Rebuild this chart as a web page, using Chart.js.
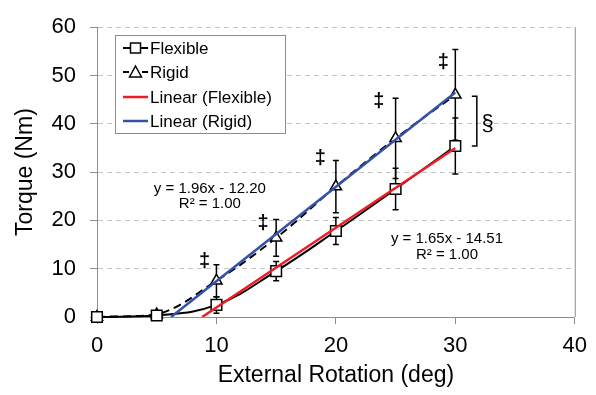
<!DOCTYPE html>
<html>
<head>
<meta charset="utf-8">
<script src="https://cdn.jsdelivr.net/npm/chart.js@4.4.0/dist/chart.umd.min.js"></script>
<style>
  body { margin: 0; background: #fff; }
  #wrap { width: 596px; height: 395px; }
</style>
</head>
<body>
<div id="wrap"><canvas id="torqueChart"></canvas></div>
<script>
let angles = [0, 5, 10, 15, 20, 25, 30]
let flexible = [0, 0.3, 2.5, 9.5, 17.8, 26.5, 35.4]
let flexibleErr = [0, 0.2, 1.7, 2.0, 2.8, 4.3, 5.8]
let rigid = [0, 0.5, 7.5, 16.4, 27, 37, 46]
let rigidErr = [0, 0.3, 3.3, 3.8, 5.4, 8.3, 9.4]

// trendline end points
let fitFlexibleX = [8.8, 30]
let fitFlexibleY = [0, 35.0]
let fitRigidX = [6.2, 30]
let fitRigidY = [0, 46.5]

let xTicks = [0, 10, 20, 30, 40]
let yTicks = [0, 10, 20, 30, 40, 50, 60]

let legendLabels = [`Flexible`, `Rigid`, `Linear (Flexible)`, `Linear (Rigid)`]
let eqRigid = [`y = 1.96x - 12.20`, `R² = 1.00`]
let eqFlexible = [`y = 1.65x - 14.51`, `R² = 1.00`]

const FONT = `"Liberation Sans", Arial, sans-serif`
const RED = `#ee1c25`
const BLUE = `#3552a8`

function pts(xs, ys) {
    return xs.map((v, i) => ({x: v, y: ys[i]}))
}

const extras = {
    id: `extras`,
    beforeDatasetsDraw(chart) {
        const {ctx, scales: {x, y}} = chart
        ctx.save()
        ctx.strokeStyle = `#000`
        ctx.lineWidth = 1.5
        ;[[flexible, flexibleErr], [rigid, rigidErr]].forEach(([vals, errs]) => {
            angles.forEach((a, i) => {
                if (!errs[i]) return
                const px = x.getPixelForValue(a)
                const top = y.getPixelForValue(vals[i] + errs[i])
                const bot = y.getPixelForValue(vals[i] - errs[i])
                ctx.beginPath()
                ctx.moveTo(px, top); ctx.lineTo(px, bot)
                ctx.moveTo(px - 3, top); ctx.lineTo(px + 3, top)
                ctx.moveTo(px - 3, bot); ctx.lineTo(px + 3, bot)
                ctx.stroke()
            })
        })
        ctx.restore()
    },
    afterDraw(chart) {
        const {ctx, chartArea: area, scales: {x, y}} = chart
        ctx.save()

        // right frame line
        ctx.strokeStyle = `#8c8c8c`
        ctx.lineWidth = 1
        ctx.beginPath()
        ctx.moveTo(area.right + 0.5, area.top)
        ctx.lineTo(area.right + 0.5, area.bottom)
        ctx.stroke()

        // significance marks
        ctx.fillStyle = `#000`
        ctx.textAlign = `center`
        ctx.textBaseline = `middle`
        ctx.font = `bold 20px ${FONT}`
        const daggers = [[9.0, 11.4], [13.9, 19.4], [18.7, 32.8], [23.6, 44.7], [29.0, 52.7]]
        daggers.forEach(([dx, dy]) => {
            ctx.fillText(`‡`, x.getPixelForValue(dx), y.getPixelForValue(dy))
        })

        // bracket and section sign
        const bx = x.getPixelForValue(31.8)
        const bt = y.getPixelForValue(45.7)
        const bb = y.getPixelForValue(35.4)
        ctx.strokeStyle = `#000`
        ctx.lineWidth = 1.5
        ctx.beginPath()
        ctx.moveTo(bx - 5, bt); ctx.lineTo(bx, bt); ctx.lineTo(bx, bb); ctx.lineTo(bx - 5, bb)
        ctx.stroke()
        ctx.font = `22px ${FONT}`
        ctx.fillText(`§`, x.getPixelForValue(32.7), y.getPixelForValue(40))

        // trendline equations
        ctx.font = `15px ${FONT}`
        ctx.fillText(eqRigid[0], x.getPixelForValue(9.45), y.getPixelForValue(26.6))
        ctx.fillText(eqRigid[1], x.getPixelForValue(9.45), y.getPixelForValue(23.4))
        ctx.fillText(eqFlexible[0], x.getPixelForValue(29.3), y.getPixelForValue(16.2))
        ctx.fillText(eqFlexible[1], x.getPixelForValue(29.3), y.getPixelForValue(12.8))

        // legend
        const lx = 115, ly = 35, lw = 170, lh = 98
        ctx.fillStyle = `#fff`
        ctx.fillRect(lx, ly, lw, lh)
        ctx.strokeStyle = `#8c8c8c`
        ctx.lineWidth = 1
        ctx.strokeRect(lx + 0.5, ly + 0.5, lw, lh)
        const rows = [48, 72, 97, 121]
        const m0 = 123, m1 = 148, mc = 135.5
        ctx.lineWidth = 2
        ctx.strokeStyle = `#000`
        ctx.beginPath()
        ctx.moveTo(m0, rows[0]); ctx.lineTo(m1, rows[0])
        ctx.stroke()
        ctx.fillStyle = `#fff`
        ctx.lineWidth = 1.5
        ctx.fillRect(mc - 5, rows[0] - 5, 10, 10)
        ctx.strokeRect(mc - 5, rows[0] - 5, 10, 10)
        ctx.lineWidth = 2
        ctx.beginPath()
        ctx.moveTo(m0, rows[1]); ctx.lineTo(m0 + 6, rows[1])
        ctx.moveTo(m1 - 6, rows[1]); ctx.lineTo(m1, rows[1])
        ctx.stroke()
        ctx.lineWidth = 1.5
        ctx.beginPath()
        ctx.moveTo(mc, rows[1] - 6); ctx.lineTo(mc + 6, rows[1] + 5); ctx.lineTo(mc - 6, rows[1] + 5); ctx.closePath()
        ctx.fill(); ctx.stroke()
        ctx.lineWidth = 2.5
        ctx.strokeStyle = RED
        ctx.beginPath(); ctx.moveTo(m0, rows[2]); ctx.lineTo(m1, rows[2]); ctx.stroke()
        ctx.strokeStyle = BLUE
        ctx.beginPath(); ctx.moveTo(m0, rows[3]); ctx.lineTo(m1, rows[3]); ctx.stroke()
        ctx.fillStyle = `#000`
        ctx.textAlign = `left`
        ctx.font = `17px ${FONT}`
        legendLabels.forEach((t, i) => ctx.fillText(t, 150, rows[i] + 1))

        ctx.restore()
    }
}

function torqueChart() {
    const ctx = document.getElementById(`torqueChart`)

    new Chart(ctx, {
        type: `line`,
        data: {
            datasets: [{
                label: legendLabels[2],
                data: pts(fitFlexibleX, fitFlexibleY),
                borderColor: RED,
                borderWidth: 2.5,
                pointRadius: 0,
                tension: 0,
                order: 0
            }, {
                label: legendLabels[3],
                data: pts(fitRigidX, fitRigidY),
                borderColor: BLUE,
                borderWidth: 2.5,
                pointRadius: 0,
                tension: 0,
                order: 0
            }, {
                label: legendLabels[0],
                data: pts(angles, flexible),
                borderColor: `#000`,
                borderWidth: 2,
                tension: 0.4,
                clip: false,
                pointStyle: `rect`,
                pointRadius: 7.5,
                pointBackgroundColor: `#fff`,
                pointBorderColor: `#000`,
                pointBorderWidth: 1.5,
                order: 1
            }, {
                label: legendLabels[1],
                data: pts(angles, rigid),
                borderColor: `#000`,
                borderWidth: 2,
                borderDash: [8, 5],
                tension: 0.4,
                clip: false,
                pointStyle: `triangle`,
                pointRadius: 6.5,
                pointBackgroundColor: `#fff`,
                pointBorderColor: `#000`,
                pointBorderWidth: 1.5,
                order: 1
            }]
        },
        options: {
            responsive: true,
            maintainAspectRatio: false,
            animation: false,
            layout: {padding: {left: 0, right: 21, top: 17, bottom: 0}},
            plugins: {
                legend: {display: false},
                tooltip: {enabled: false}
            },
            scales: {
                x: {
                    type: `linear`,
                    min: 0,
                    max: 40,
                    afterBuildTicks: (s) => { s.ticks = xTicks.map((v) => ({value: v})) },
                    afterFit: (s) => { s.height = 78 },
                    ticks: {color: `#000`, font: {family: FONT, size: 22}, padding: 9},
                    grid: {drawOnChartArea: false, drawTicks: true, tickLength: 7, tickColor: `#8c8c8c`},
                    border: {color: `#8c8c8c`, width: 1},
                    title: {
                        display: true,
                        text: `External Rotation (deg)`,
                        color: `#000`,
                        font: {family: FONT, size: 23},
                        padding: {top: 0, bottom: 6}
                    }
                },
                y: {
                    type: `linear`,
                    min: 0,
                    max: 60,
                    afterBuildTicks: (s) => { s.ticks = yTicks.map((v) => ({value: v})) },
                    afterFit: (s) => { s.width = 97 },
                    ticks: {color: `#000`, font: {family: FONT, size: 22}, padding: 14},
                    grid: {
                        color: `#c4c4c4`,
                        lineWidth: 1,
                        tickLength: 7,
                        tickColor: `#8c8c8c`,
                        tickBorderDash: []
                    },
                    border: {color: `#8c8c8c`, width: 1, dash: [5, 4]},
                    title: {
                        display: true,
                        text: `Torque (Nm)`,
                        color: `#000`,
                        font: {family: FONT, size: 23},
                        padding: {top: 12, bottom: 0}
                    }
                }
            }
        },
        plugins: [extras]
    })
}

torqueChart()
</script>
</body>
</html>
